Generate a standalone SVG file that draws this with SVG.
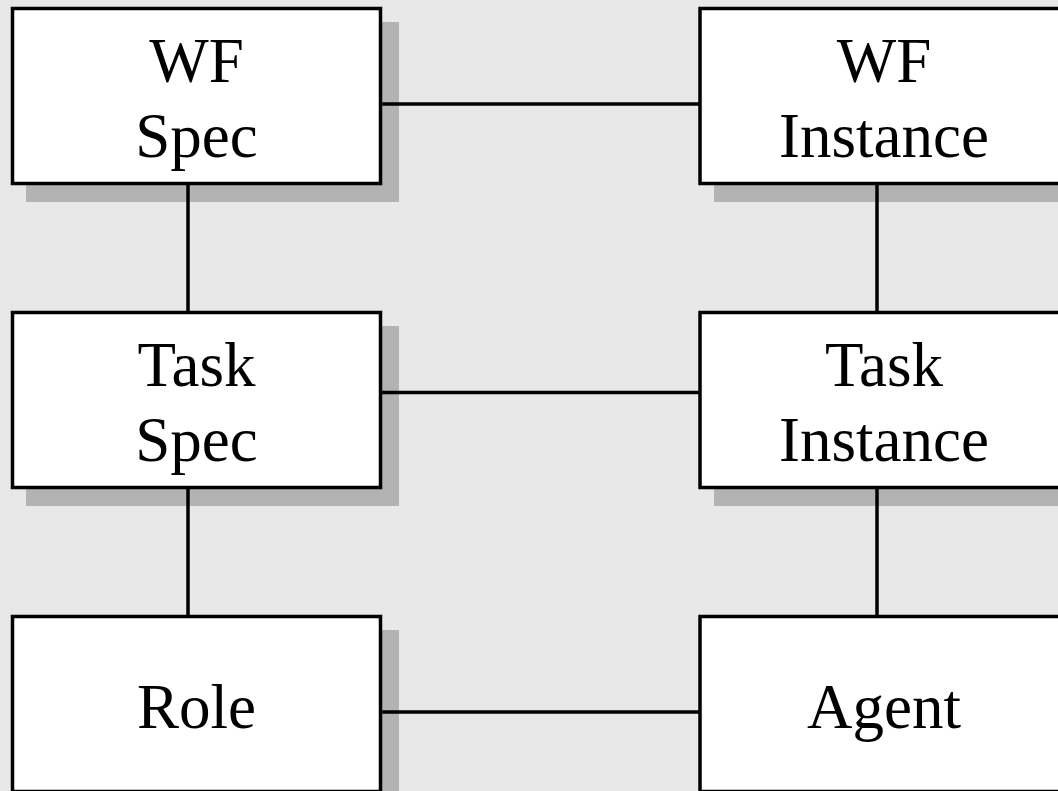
<svg xmlns="http://www.w3.org/2000/svg" width="1058" height="791" viewBox="0 0 1058 791">
  <style>
    .shadow { fill: #b3b3b3; }
    .box { fill: #ffffff; stroke: #000000; stroke-width: 3.5; }
    .label { font-family: "Liberation Serif", "Times New Roman", serif; font-size: 63px; fill: #000000; text-anchor: middle; }
    .link { stroke: #000000; stroke-width: 3.5; fill: none; }
  </style>
  <rect x="0" y="0" width="1058" height="791" fill="#e8e8e8"/>

  <!-- shadows sit under everything -->
  <g id="shadows">
    <rect class="shadow" x="26" y="22" width="373" height="180"/>
    <rect class="shadow" x="714" y="22" width="373" height="180"/>
    <rect class="shadow" x="26" y="326" width="373" height="180"/>
    <rect class="shadow" x="714" y="326" width="373" height="180"/>
    <rect class="shadow" x="26" y="630" width="373" height="180"/>
    <rect class="shadow" x="714" y="630" width="373" height="180"/>
  </g>

  <g id="connectors">
    <line class="link" x1="380" y1="104" x2="700" y2="104"/>
    <line class="link" x1="380" y1="392.5" x2="700" y2="392.5"/>
    <line class="link" x1="380" y1="712" x2="700" y2="712"/>
    <line class="link" x1="188" y1="183" x2="188" y2="313"/>
    <line class="link" x1="188" y1="487" x2="188" y2="617"/>
    <line class="link" x1="877" y1="183" x2="877" y2="313"/>
    <line class="link" x1="877" y1="487" x2="877" y2="617"/>
  </g>

  <g id="wf-spec">
    <rect class="box" x="12.5" y="8.5" width="368" height="175"/>
    <text class="label" x="196.5" y="82">WF</text>
    <text class="label" x="196.5" y="157">Spec</text>
  </g>
  <g id="wf-instance">
    <rect class="box" x="700" y="8.5" width="368" height="175"/>
    <text class="label" x="884" y="82">WF</text>
    <text class="label" x="884" y="157">Instance</text>
  </g>
  <g id="task-spec">
    <rect class="box" x="12.5" y="312.5" width="368" height="175"/>
    <text class="label" x="196.5" y="386">Task</text>
    <text class="label" x="196.5" y="461">Spec</text>
  </g>
  <g id="task-instance">
    <rect class="box" x="700" y="312.5" width="368" height="175"/>
    <text class="label" x="884" y="386">Task</text>
    <text class="label" x="884" y="461">Instance</text>
  </g>
  <g id="role">
    <rect class="box" x="12.5" y="616.5" width="368" height="175"/>
    <text class="label" x="196.5" y="728">Role</text>
  </g>
  <g id="agent">
    <rect class="box" x="700" y="616.5" width="368" height="175"/>
    <text class="label" x="884" y="728">Agent</text>
  </g>
</svg>
